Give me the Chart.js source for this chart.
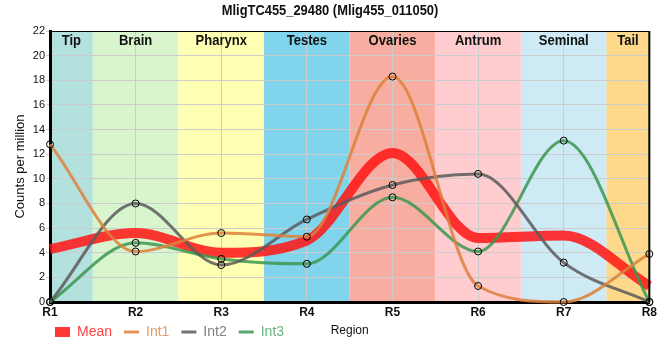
<!DOCTYPE html>
<html>
<head>
<meta charset="utf-8">
<script src="https://cdn.jsdelivr.net/npm/chart.js@4"></script>
<style>
html,body{margin:0;padding:0;background:#fff;}
#wrap{width:660px;height:360px;position:relative;}
</style>
</head>
<body>
<div id="wrap"><canvas id="c" width="660" height="360"></canvas></div>
<script>
const categories = ['R1','R2','R3','R4','R5','R6','R7','R8'];
const regionNames = ['Tip','Brain','Pharynx','Testes','Ovaries','Antrum','Seminal','Tail'];
const regionColors = ['#b3e2de','#d9f5ce','#ffffb3','#80d4ec','#f7ad9f','#ffcdd0','#cdeaf5','#ffd98b'];
const meanValues = [4.3, 5.6, 4.0, 5.0, 12.1, 5.2, 5.4, 1.3];
const int1Values = [12.8, 4.1, 5.6, 5.3, 18.3, 1.3, 0, 3.9];
const int2Values = [0, 8.0, 3.0, 6.7, 9.5, 10.4, 3.2, 0];
const int3Values = [0, 4.8, 3.5, 3.1, 8.5, 4.1, 13.1, 0];
const yTicks = [0,2,4,6,8,10,12,14,16,18,20,22];
const chartTitle = 'MligTC455_29480 (Mlig455_011050)';

const FONT = '"Liberation Sans", Arial, sans-serif';

function condensedText(ctx, text, x, y, font, squeeze) {
  ctx.save();
  ctx.font = font;
  ctx.translate(x, y);
  ctx.scale(squeeze, 1);
  ctx.fillText(text, 0, 0);
  ctx.restore();
}

const bandsPlugin = {
  id: 'bands',
  afterLayout(chart) {
    const lg = chart.legend;
    if (lg) { lg.left -= 7; lg.right -= 7; lg.top -= 11; lg.bottom -= 11; }
  },
  beforeDraw(chart) {
    const {ctx, chartArea: a, scales: {x}} = chart;
    ctx.save();
    for (let i = 0; i < regionNames.length; i++) {
      let l = Math.max(a.left, x.getPixelForValue(i - 0.5));
      let r = Math.min(a.right, x.getPixelForValue(i + 0.5));
      ctx.fillStyle = regionColors[i];
      ctx.fillRect(l, a.top, r - l, a.bottom - a.top);
    }
    ctx.fillStyle = '#111';
    ctx.textAlign = 'center';
    ctx.textBaseline = 'middle';
    condensedText(ctx, chartTitle, chart.width / 2, 11, 'bold 15px ' + FONT, 0.86);
    ctx.restore();
  },
  beforeDatasetsDraw(chart) {
    const {ctx, chartArea: a, scales: {x}} = chart;
    ctx.save();
    ctx.fillStyle = '#111';
    ctx.textAlign = 'center';
    ctx.textBaseline = 'middle';
    for (let i = 0; i < regionNames.length; i++) {
      let l = Math.max(a.left, x.getPixelForValue(i - 0.5));
      let r = Math.min(a.right, x.getPixelForValue(i + 0.5));
      condensedText(ctx, regionNames[i], (l + r) / 2, a.top + 10, 'bold 15px ' + FONT, 0.87);
    }
    ctx.restore();
  },
  afterDraw(chart) {
    const {ctx, chartArea: a} = chart;
    ctx.save();
    ctx.strokeStyle = '#000';
    ctx.lineWidth = 1;
    ctx.beginPath();
    ctx.moveTo(a.left, a.top + 0.5);
    ctx.lineTo(a.right, a.top + 0.5);
    ctx.stroke();
    ctx.lineWidth = 2;
    ctx.beginPath();
    ctx.moveTo(a.right, a.top);
    ctx.lineTo(a.right, a.bottom);
    ctx.stroke();
    ctx.font = '12px ' + FONT;
    ctx.fillStyle = '#111';
    ctx.textAlign = 'center';
    ctx.textBaseline = 'middle';
    ctx.fillText('Region', (a.left + a.right) / 2, 331);
    ctx.restore();
  }
};

const seriesStyle = [
  {label:'Mean', data: meanValues, color:'rgba(255,20,20,0.85)', text:'#ff4444', width:10, points:false},
  {label:'Int1', data: int1Values, color:'rgba(222,128,60,0.85)', text:'#e89a66', width:3, points:true},
  {label:'Int2', data: int2Values, color:'rgba(90,90,90,0.85)', text:'#808080', width:3, points:true},
  {label:'Int3', data: int3Values, color:'rgba(60,150,80,0.85)', text:'#6cb27c', width:3, points:true}
];

const datasets = seriesStyle.map(s => ({
  label: s.label,
  data: s.data,
  borderColor: s.color,
  backgroundColor: s.color,
  borderWidth: s.width,
  cubicInterpolationMode: 'monotone',
  pointRadius: s.points ? 3.5 : 0,
  pointBackgroundColor: 'rgba(0,0,0,0)',
  pointBorderColor: '#000',
  pointBorderWidth: 1,
  clip: false,
  order: s.label === 'Mean' ? 2 : 1
}));

new Chart(document.getElementById('c'), {
  type: 'line',
  data: { labels: categories, datasets },
  plugins: [bandsPlugin],
  options: {
    responsive: false,
    animation: false,
    devicePixelRatio: 1,
    layout: { padding: { left: 0, right: 3, top: 31, bottom: 0 } },
    plugins: {
      title: { display: false },
      legend: {
        position: 'bottom',
        align: 'start',
        fullSize: false,
        labels: {
          usePointStyle: true,
          pointStyleWidth: 15,
          boxHeight: 10,
          padding: 12,
          font: { family: FONT, size: 14 },
          generateLabels(chart) {
            return seriesStyle.map((s, i) => ({
              text: s.label,
              fillStyle: s.color,
              strokeStyle: s.color,
              lineWidth: s.points ? 3 : 0,
              pointStyle: s.points ? 'line' : 'rect',
              fontColor: s.text,
              hidden: !chart.isDatasetVisible(i),
              datasetIndex: i
            }));
          }
        }
      },
      tooltip: { enabled: false }
    },
    scales: {
      x: {
        offset: false,
        grid: { color: '#cccccc', lineWidth: 1, drawTicks: false },
        border: { color: '#000', width: 3 },
        ticks: { color: '#111', font: { family: FONT, size: 12, weight: 'bold' }, padding: 3, maxRotation: 0 },
        afterFit(s) { s.height = 22; }
      },
      y: {
        min: 0, max: 22,
        afterBuildTicks(s) { s.ticks = yTicks.map(v => ({value: v})); },
        grid: { color: '#cccccc', lineWidth: 1, tickLength: 4 },
        border: { color: '#000', width: 3 },
        ticks: { color: '#111', font: { family: FONT, size: 11 }, padding: 1 },
        title: { display: true, text: 'Counts per million', font: { family: FONT, size: 13 }, color: '#111', padding: { top: 13, bottom: 0 } },
        afterFit(s) { s.width = 50; }
      }
    }
  }
});
</script>
</body>
</html>
